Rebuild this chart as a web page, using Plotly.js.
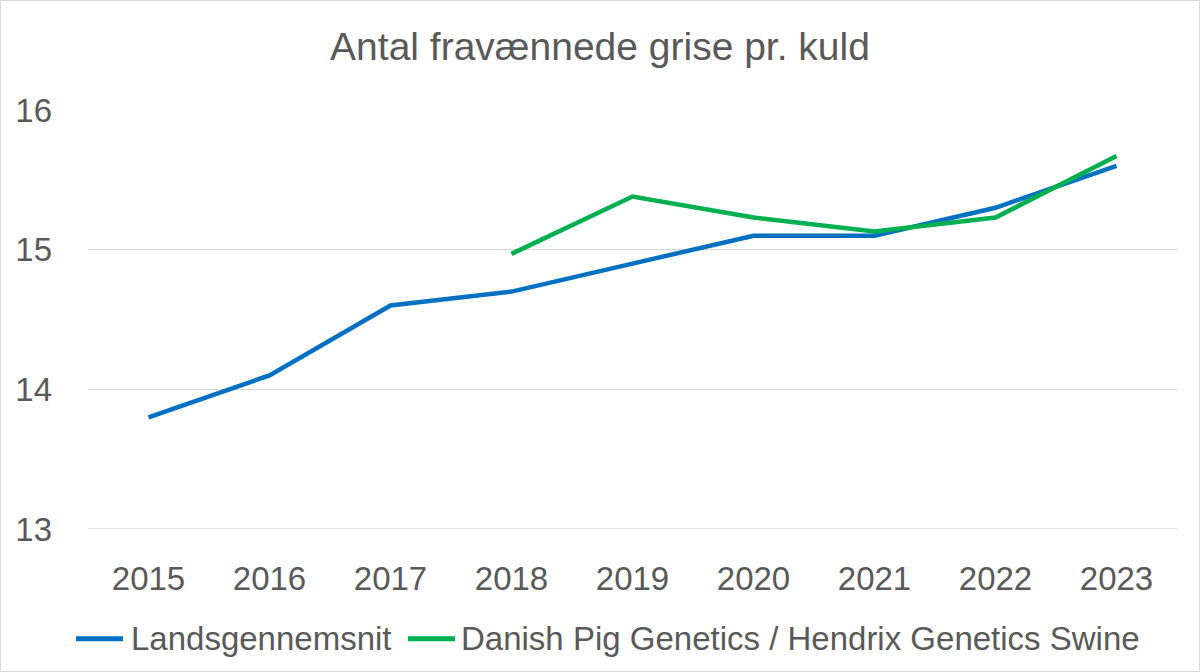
<!DOCTYPE html>
<html><head><meta charset="utf-8">
<script src="https://cdn.plot.ly/plotly-3.0.1.min.js"></script>
<style>html,body{margin:0;padding:0;background:#fff}#c{width:1198px;height:670px;border:1px solid #d9d9d9}</style>
</head><body><div id="c"></div>
<script>
const years = ["2015","2016","2017","2018","2019","2020","2021","2022","2023"];
const landsgennemsnit = [13.8, 14.1, 14.6, 14.7, 14.9, 15.1, 15.1, 15.3, 15.6];
const dpgYears = ["2018","2019","2020","2021","2022","2023"];
const dpg = [14.97, 15.38, 15.23, 15.13, 15.23, 15.67];
const yTicks = [13, 14, 15, 16];
const seriesNames = ["Landsgennemsnit", "Danish Pig Genetics / Hendrix Genetics Swine"];
const colors = ["#0070C0", "#00B050"];

const font = "Liberation Sans, Arial, sans-serif";
const traces = [
  {x: years, y: landsgennemsnit, type: "scatter", mode: "lines", name: seriesNames[0],
   line: {color: colors[0], width: 4.5}},
  {x: dpgYears, y: dpg, type: "scatter", mode: "lines", name: seriesNames[1],
   line: {color: colors[1], width: 4.5}}
];
// custom legend (layout positions in paper fractions)
const legY = -0.262;
const legItems = [{x0: -0.011, x1: 0.0321, tx: 0.0375}, {x0: 0.2938, x1: 0.3370, tx: 0.3405}];
const shapes = [{type: "line", xref: "paper", yref: "y", x0: 0, x1: 1, y0: 13, y1: 13,
                 line: {color: "#d9d9d9", width: 1.5}, layer: "below"}];
const annotations = [];
legItems.forEach((it, i) => {
  shapes.push({type: "line", xref: "paper", yref: "paper", x0: it.x0, x1: it.x1, y0: legY, y1: legY,
               line: {color: colors[i], width: 5}});
  annotations.push({xref: "paper", yref: "paper", x: it.tx, y: legY, xanchor: "left", yanchor: "middle",
                    text: seriesNames[i], showarrow: false, font: {size: 33, color: "#595959", family: font}});
});
const layout = {
  width: 1198, height: 670,
  margin: {l: 87, r: 22, t: 109, b: 142},
  paper_bgcolor: "#fff", plot_bgcolor: "#fff",
  font: {family: font, color: "#595959", size: 33},
  title: {text: "Antal fravænnede grise pr. kuld", x: 0.5, xanchor: "center", y: 0.932, yanchor: "middle",
          font: {size: 39, color: "#595959", family: font}},
  xaxis: {type: "category", categoryorder: "array", categoryarray: years, range: [-0.5, 8.5],
          showgrid: false, showline: false, zeroline: false, ticks: "", ticklabelstandoff: 27,
          tickangle: 0, automargin: false, tickfont: {size: 33, color: "#595959"}},
  yaxis: {range: [13, 16], tickvals: yTicks, showgrid: true, gridcolor: "#d9d9d9", gridwidth: 1.5,
          zeroline: false, showline: false, ticks: "", ticklabelstandoff: 35, automargin: false,
          tickfont: {size: 33, color: "#595959"}},
  shapes: shapes,
  annotations: annotations,
  showlegend: false,
};
Plotly.newPlot("c", traces, layout, {displayModeBar: false, staticPlot: true});
</script></body></html>
